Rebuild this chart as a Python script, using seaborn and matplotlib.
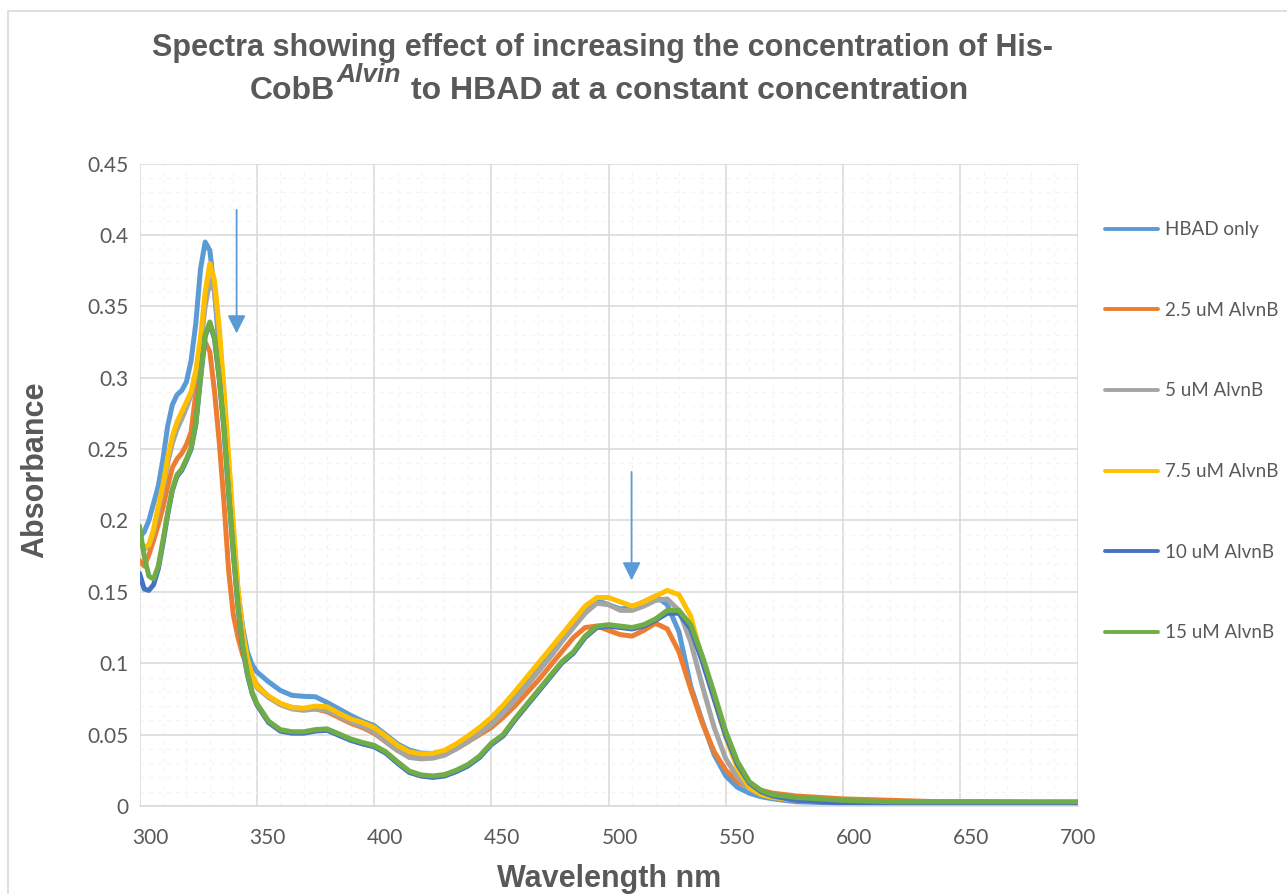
import numpy as np
import pandas as pd
import matplotlib
matplotlib.use("Agg")
import matplotlib.pyplot as plt
import matplotlib.transforms as mtransforms
from matplotlib.lines import Line2D
from matplotlib.patches import Rectangle
import seaborn as sns

# ---------------- data ----------------
wavelength = [300, 302, 304, 306, 308, 310, 312, 314, 316, 318, 320, 322, 324, 326, 328, 330,
              332, 334, 336, 338, 340, 342, 344, 346, 348, 350, 355, 360, 365, 370, 375, 380,
              385, 390, 395, 400, 405, 410, 415, 420, 425, 430, 435, 440, 445, 450, 455, 460,
              465, 470, 475, 480, 485, 490, 495, 500, 505, 510, 515, 520, 525, 530, 535, 540,
              545, 550, 555, 560, 565, 570, 580, 590, 600, 620, 640, 660, 680, 700]

hbad_only = [0.188, 0.192, 0.200, 0.212, 0.224, 0.243, 0.266, 0.281, 0.288, 0.291, 0.297, 0.312,
             0.338, 0.376, 0.395, 0.389, 0.360, 0.320, 0.275, 0.230, 0.185, 0.150, 0.125, 0.108,
             0.099, 0.094, 0.087, 0.081, 0.0775, 0.0768, 0.0765, 0.0725, 0.068, 0.0635, 0.0595,
             0.0563, 0.050, 0.0435, 0.0392, 0.037, 0.0368, 0.038, 0.042, 0.048, 0.054, 0.060,
             0.067, 0.076, 0.086, 0.096, 0.107, 0.118, 0.129, 0.139, 0.144, 0.141, 0.138, 0.139,
             0.143, 0.147, 0.141, 0.122, 0.084, 0.059, 0.036, 0.021, 0.013, 0.009, 0.0065, 0.005,
             0.003, 0.0025, 0.002, 0.0015, 0.0012, 0.001, 0.001, 0.001]

alvnb_2_5 = [0.172, 0.168, 0.176, 0.186, 0.197, 0.209, 0.224, 0.237, 0.243, 0.247, 0.253, 0.262,
             0.289, 0.310, 0.325, 0.318, 0.290, 0.255, 0.213, 0.165, 0.134, 0.118, 0.106, 0.098,
             0.091, 0.085, 0.0765, 0.0715, 0.069, 0.068, 0.068, 0.066, 0.062, 0.058, 0.055,
             0.051, 0.045, 0.039, 0.035, 0.034, 0.0345, 0.0365, 0.040, 0.045, 0.050, 0.055,
             0.062, 0.070, 0.079, 0.088, 0.098, 0.108, 0.118, 0.125, 0.126, 0.123, 0.120, 0.119,
             0.123, 0.128, 0.124, 0.108, 0.082, 0.058, 0.038, 0.025, 0.017, 0.013, 0.011, 0.009,
             0.007, 0.006, 0.005, 0.004, 0.003, 0.003, 0.0025, 0.0025]

alvnb_5 = [0.183, 0.180, 0.182, 0.192, 0.207, 0.222, 0.240, 0.254, 0.264, 0.271, 0.279, 0.288,
           0.302, 0.322, 0.350, 0.368, 0.360, 0.330, 0.288, 0.240, 0.193, 0.150, 0.121, 0.102,
           0.091, 0.083, 0.076, 0.071, 0.068, 0.067, 0.068, 0.067, 0.063, 0.059, 0.056, 0.052,
           0.045, 0.039, 0.034, 0.033, 0.0335, 0.0355, 0.040, 0.045, 0.051, 0.057, 0.065, 0.074,
           0.084, 0.094, 0.104, 0.115, 0.125, 0.135, 0.142, 0.141, 0.137, 0.137, 0.140, 0.144,
           0.145, 0.137, 0.115, 0.084, 0.055, 0.033, 0.020, 0.012, 0.008, 0.006, 0.0045, 0.0035,
           0.003, 0.0025, 0.002, 0.002, 0.002, 0.002]

alvnb_7_5 = [0.186, 0.181, 0.183, 0.194, 0.210, 0.225, 0.244, 0.259, 0.269, 0.276, 0.283, 0.290,
             0.305, 0.328, 0.360, 0.380, 0.368, 0.335, 0.292, 0.245, 0.197, 0.152, 0.122, 0.103,
             0.092, 0.084, 0.077, 0.072, 0.069, 0.0685, 0.070, 0.0695, 0.065, 0.061, 0.0585,
             0.055, 0.049, 0.0425, 0.038, 0.0365, 0.0368, 0.039, 0.0435, 0.049, 0.055, 0.062,
             0.0705, 0.080, 0.090, 0.100, 0.110, 0.120, 0.130, 0.140, 0.146, 0.146, 0.143, 0.140,
             0.143, 0.147, 0.151, 0.148, 0.133, 0.102, 0.075, 0.048, 0.026, 0.013, 0.008, 0.006,
             0.004, 0.003, 0.003, 0.0025, 0.002, 0.002, 0.002, 0.002]

alvnb_10 = [0.163, 0.152, 0.151, 0.155, 0.166, 0.184, 0.204, 0.221, 0.231, 0.235, 0.242, 0.250,
            0.267, 0.299, 0.329, 0.338, 0.327, 0.299, 0.264, 0.219, 0.177, 0.139, 0.111, 0.092,
            0.079, 0.071, 0.0585, 0.0525, 0.051, 0.051, 0.0525, 0.053, 0.0495, 0.046, 0.0435,
            0.0415, 0.037, 0.030, 0.0235, 0.021, 0.020, 0.021, 0.024, 0.028, 0.034, 0.043,
            0.049, 0.060, 0.070, 0.080, 0.090, 0.100, 0.107, 0.118, 0.125, 0.126, 0.125, 0.124,
            0.126, 0.130, 0.135, 0.135, 0.124, 0.101, 0.075, 0.049, 0.029, 0.016, 0.010, 0.007,
            0.004, 0.003, 0.002, 0.0015, 0.0012, 0.001, 0.001, 0.001]

alvnb_15 = [0.196, 0.175, 0.161, 0.159, 0.168, 0.186, 0.205, 0.222, 0.232, 0.236, 0.243, 0.251,
            0.268, 0.300, 0.330, 0.339, 0.328, 0.300, 0.265, 0.220, 0.178, 0.140, 0.112, 0.093,
            0.080, 0.072, 0.0595, 0.0535, 0.052, 0.052, 0.0535, 0.054, 0.0505, 0.047, 0.0445,
            0.0425, 0.038, 0.031, 0.0245, 0.0218, 0.021, 0.022, 0.025, 0.029, 0.035, 0.044,
            0.050, 0.061, 0.071, 0.081, 0.091, 0.101, 0.108, 0.119, 0.126, 0.127, 0.126, 0.125,
            0.127, 0.131, 0.137, 0.137, 0.127, 0.105, 0.079, 0.052, 0.031, 0.017, 0.011, 0.008,
            0.006, 0.005, 0.004, 0.003, 0.003, 0.003, 0.003, 0.003]

series_names = ["HBAD only", "2.5 uM AlvnB", "5 uM AlvnB", "7.5 uM AlvnB", "10 uM AlvnB", "15 uM AlvnB"]
series_values = [hbad_only, alvnb_2_5, alvnb_5, alvnb_7_5, alvnb_10, alvnb_15]
series_colors = ["#5B9BD5", "#ED7D31", "#A5A5A5", "#FFC000", "#4472C4", "#70AD47"]

x_ticks = [300, 350, 400, 450, 500, 550, 600, 650, 700]
y_ticks = [0, 0.05, 0.1, 0.15, 0.2, 0.25, 0.3, 0.35, 0.4, 0.45]
y_tick_labels = ["0", "0.05", "0.1", "0.15", "0.2", "0.25", "0.3", "0.35", "0.4", "0.45"]

# arrows (start wavelength/absorbance -> tip)
arrow_x = [341.4, 509.8]
arrow_y_start = [0.4175, 0.234]
arrow_y_end = [0.331, 0.158]

title_line1 = "Spectra showing effect of increasing the concentration of His-"
title_line2_parts = ["CobB", "Alvin", "to HBAD at a constant concentration"]
x_label = "Wavelength nm"
y_label = "Absorbance"

# ---------------- build frame ----------------
rows = []
for name, vals in zip(series_names, series_values):
    for w, v in zip(wavelength, vals):
        rows.append({"wavelength": w, "absorbance": v, "series": name})
df = pd.DataFrame(rows)

# ---------------- style ----------------
sns.set_style("white")
plt.rcParams["font.family"] = ["Lato", "DejaVu Sans"]

TEXT = "#595959"
GRID = "#D9D9D9"
W, H = 1287, 894

fig = plt.figure(figsize=(W / 100, H / 100), dpi=100)
fig.patch.set_facecolor("white")

# chart border (Excel chart area outline)
fig.add_artist(Rectangle((8 / W, -0.1), 1.2, (H - 11) / H + 0.1, transform=fig.transFigure,
                         fill=False, edgecolor=GRID, linewidth=1.2))

x0, x1 = 139.5, 1077.7
y0, y1 = 806, 163.5
ax = fig.add_axes([x0 / W, (H - y0) / H, (x1 - x0) / W, (y0 - y1) / H])

sns.lineplot(data=df, x="wavelength", y="absorbance", hue="series", hue_order=series_names,
             palette=series_colors, linewidth=3.6, legend=False, ax=ax, sort=False,
             estimator=None)

ax.set_xlim(300, 700)
ax.set_ylim(0, 0.45)
ax.set_xticks(x_ticks)
ax.set_xticklabels([str(t) for t in x_ticks])
ax.set_yticks(y_ticks)
ax.set_yticklabels(y_tick_labels)
ax.set_xticks(np.arange(310, 700, 10), minor=True)
ax.set_yticks(np.arange(0.01, 0.45, 0.01), minor=True)

ax.grid(True, which="major", color=GRID, linewidth=1.1)
ax.grid(True, which="minor", color="#F3F3F3", linewidth=0.8, linestyle=(0, (3, 5)))
ax.set_axisbelow(True)
for s in ["top", "right", "left"]:
    ax.spines[s].set_visible(False)
ax.spines["bottom"].set_color(GRID)
ax.spines["bottom"].set_linewidth(1.2)

ax.tick_params(axis="both", which="both", length=0, labelsize=15, labelcolor=TEXT)
ax.tick_params(axis="x", pad=16)
ax.tick_params(axis="y", pad=8)
offset = mtransforms.ScaledTranslation(11 / 100, 0, fig.dpi_scale_trans)
for lbl in ax.get_xticklabels()[:-1]:
    lbl.set_transform(lbl.get_transform() + offset)

ax.set_xlabel("")
ax.set_ylabel("")

# arrows
for xa, ys, ye in zip(arrow_x, arrow_y_start, arrow_y_end):
    ax.annotate("", xy=(xa, ye), xytext=(xa, ys),
                arrowprops=dict(arrowstyle="-|>,head_length=1.1,head_width=0.55",
                                color="#5B9BD5", lw=1.3, shrinkA=0, shrinkB=0,
                                mutation_scale=10))

# titles and axis labels
fig.text(603 / W, 1 - 56 / H, title_line1, ha="center", va="baseline", fontsize=22,
         fontweight="bold", color=TEXT, family="Liberation Sans")

renderer = fig.canvas.get_renderer()
L2_FS = 23
t1 = fig.text(0, 1 - 99 / H, title_line2_parts[0], ha="left", va="baseline",
              fontsize=L2_FS, fontweight="bold", color=TEXT, family="Liberation Sans")
t2 = fig.text(0, 1 - 82 / H, title_line2_parts[1], ha="left", va="baseline",
              fontsize=19, fontweight="bold", style="italic", color=TEXT,
              family="Liberation Sans")
t3 = fig.text(0, 1 - 99 / H, title_line2_parts[2], ha="left", va="baseline",
              fontsize=L2_FS, fontweight="bold", color=TEXT, family="Liberation Sans")
w1 = t1.get_window_extent(renderer).width
w2 = t2.get_window_extent(renderer).width
w3 = t3.get_window_extent(renderer).width
gap = 10
total = w1 + 1 + w2 + gap + w3
start = 609 - total / 2
t1.set_x(start / W)
t2.set_x((start + w1 + 1) / W)
t3.set_x((start + w1 + 1 + w2 + gap) / W)

fig.text(609 / W, 1 - 887 / H, x_label, ha="center", va="baseline", fontsize=22,
         fontweight="bold", color=TEXT, family="Liberation Sans")
fig.text(35 / W, 1 - 470 / H, y_label, ha="center", va="center", rotation=90, fontsize=22,
         fontweight="bold", color=TEXT, family="Liberation Sans")

# legend
handles = [Line2D([0], [0], color=c, lw=2.8) for c in series_colors]
leg = fig.legend(handles, series_names, loc="upper left",
                 bbox_to_anchor=(1096 / W, 1 - 212 / H), frameon=False, fontsize=13.5,
                 handlelength=2.83, handletextpad=0.37, labelspacing=3.39, borderpad=0)
for t in leg.get_texts():
    t.set_color(TEXT)

fig.savefig("out.png", dpi=100, facecolor="white")
